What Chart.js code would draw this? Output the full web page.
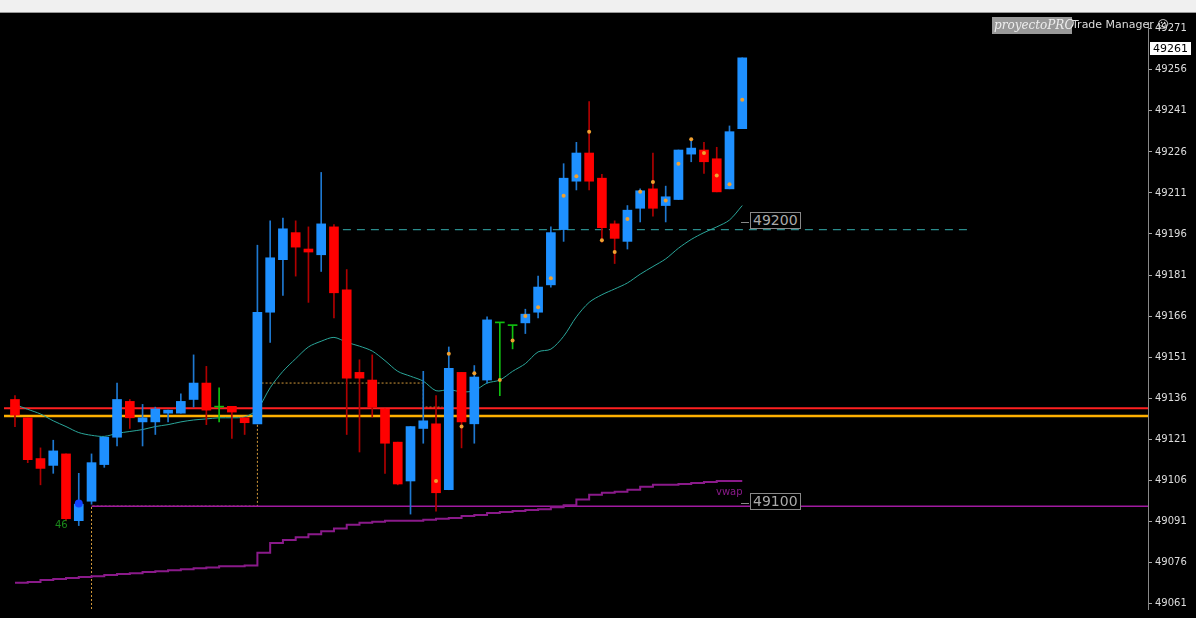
<!DOCTYPE html>
<html><head><meta charset="utf-8">
<script src="https://cdn.jsdelivr.net/npm/chart.js@4/dist/chart.umd.min.js"></script>
<style>
html,body{margin:0;padding:0;background:#000;overflow:hidden;width:1196px;height:618px;font-family:"DejaVu Sans",sans-serif}
#top{position:absolute;left:0;top:0;width:1196px;height:12px;background:#f0f0f0;border-bottom:1px solid #999}
#wrap{position:absolute;left:0;top:13px}
.lbl{position:absolute;font-size:14px;color:#aaa;border:1px solid #888;padding:0 2px;line-height:15px;background:#000}
.tk{position:absolute;height:1px;width:8px;background:#888}
</style></head><body>
<div id="top"></div>
<div id="wrap"><canvas id="c" width="1196" height="605"></canvas></div>
<div class="tk" style="left:741px;top:222px"></div><div class="lbl" style="left:750px;top:212px">49200</div>
<div class="tk" style="left:741px;top:503px"></div><div class="lbl" style="left:750px;top:493px">49100</div>
<div style="position:absolute;left:716px;top:486px;font-size:10px;color:#8a1a8a">vwap</div>
<div style="position:absolute;left:55px;top:519px;font-size:10px;color:#1a8a1a">46</div>
<div style="position:absolute;left:992px;top:17px;width:78px;height:17px;background:#999;color:#eee;font-style:italic;font-family:'DejaVu Serif',serif;font-size:12px;line-height:17px;padding-left:2px">proyectoPRO</div>
<div style="position:absolute;left:1072px;top:17px;font-size:11px;color:#ddd;line-height:15px">Trade Manager ☺</div>
<div style="position:absolute;left:1150px;top:42px;width:38px;height:13px;background:#fff;color:#000;font-size:11px;line-height:13px;padding-left:3px">49261</div>
<script>
const open_ = [49135.5,49128.8,49113.9,49111.4,49115.6,49091.2,49098.3,49111.7,49121.7,49134.8,49127.3,49127.3,49130.5,49130.5,49135.5,49141.5,49132.7,49133.0,49128.8,49126.6,49167.4,49186.6,49196.5,49190.5,49188.4,49198.6,49175.6,49145.4,49142.6,49132.0,49119.9,49105.7,49124.9,49126.6,49102.5,49145.4,49126.6,49142.6,49163.5,49162.5,49163.5,49167.4,49177.4,49197.6,49215.3,49225.6,49216.4,49199.7,49193.3,49205.4,49212.5,49206.4,49208.6,49225.2,49226.7,49223.5,49212.5,49234.5];
const high_ = [49136.9,49128.8,49117.8,49120.6,49115.6,49108.5,49115.6,49121.7,49141.5,49135.5,49133.7,49132.7,49131.6,49137.6,49151.8,49147.6,49139.8,49133.0,49128.8,49191.9,49200.8,49201.8,49200.8,49198.6,49218.5,49199.4,49183.0,49150.0,49151.8,49132.0,49119.9,49125.6,49145.8,49136.9,49154.7,49145.4,49147.9,49165.7,49163.5,49162.5,49168.5,49180.6,49198.6,49221.7,49229.5,49244.4,49217.8,49200.8,49206.4,49212.5,49225.6,49213.5,49226.7,49230.9,49229.5,49227.7,49235.5,49260.4];
const low_ = [49125.6,49112.4,49104.3,49108.5,49091.2,49089.4,49097.2,49110.7,49118.5,49124.9,49118.5,49122.7,49127.3,49130.5,49132.7,49126.3,49127.3,49121.3,49122.7,49126.6,49156.4,49173.5,49180.6,49171.0,49182.3,49165.3,49122.7,49116.3,49129.1,49108.5,49104.3,49093.6,49119.5,49094.7,49102.5,49117.8,49119.5,49141.5,49136.9,49154.0,49159.6,49165.3,49176.6,49193.3,49212.1,49212.1,49193.0,49185.2,49190.5,49200.4,49202.5,49200.4,49208.6,49222.4,49218.1,49211.4,49212.5,49234.5];
const close_ = [49129.8,49113.5,49110.3,49116.7,49091.9,49097.2,49112.4,49121.7,49135.5,49128.8,49128.8,49132.0,49131.6,49134.8,49141.5,49131.6,49132.7,49130.9,49127.0,49167.4,49187.3,49197.9,49191.2,49189.4,49199.7,49174.5,49143.3,49143.3,49132.7,49119.5,49104.6,49125.6,49127.7,49101.4,49146.9,49127.3,49143.7,49164.6,49163.5,49162.5,49166.7,49176.6,49196.5,49216.4,49225.6,49215.3,49198.3,49194.4,49204.7,49211.8,49205.4,49209.6,49226.7,49227.4,49222.4,49211.4,49233.4,49260.4];
const ma_ = [49133.7,49131.9,49130.2,49127.7,49125.6,49123.4,49122.4,49122.0,49123.1,49123.8,49124.5,49125.6,49126.3,49127.3,49128.0,49128.4,49128.8,49128.8,49129.1,49131.9,49139.8,49145.8,49150.4,49154.7,49156.8,49158.2,49156.4,49155.0,49153.2,49149.7,49145.8,49144.0,49142.2,49138.7,49139.1,49138.3,49138.7,49141.5,49142.6,49145.8,49148.6,49152.9,49153.9,49158.6,49165.7,49171.0,49173.8,49175.9,49178.1,49181.3,49184.1,49186.9,49190.8,49194.0,49196.5,49198.6,49201.1,49206.4];
const vwap_ = [49068.5,49068.8,49069.5,49069.9,49070.2,49070.6,49070.9,49071.3,49071.7,49072.0,49072.4,49072.7,49073.1,49073.4,49073.8,49074.1,49074.5,49074.5,49074.8,49079.5,49083.0,49084.1,49085.1,49086.2,49087.3,49088.3,49089.7,49090.4,49090.8,49091.2,49091.2,49091.2,49091.5,49091.9,49092.2,49092.9,49093.3,49094.0,49094.4,49094.7,49095.1,49095.4,49096.1,49096.8,49098.9,49100.7,49101.4,49101.8,49102.5,49103.6,49104.3,49104.3,49104.6,49105.0,49105.3,49105.7,49105.7,49105.7];
const dotIdx = [33,34,35,36,38,39,40,41,42,43,44,45,46,47,48,49,50,51,52,53,54,55,56,57];
const dotVal = [49105.7,49152.2,49125.6,49145.1,49142.6,49157.1,49166.0,49169.2,49179.8,49210.0,49217.1,49233.4,49193.7,49189.4,49201.5,49211.4,49215.0,49208.2,49221.7,49230.6,49225.6,49217.4,49214.2,49245.1];
const dojiIdx = [16,38,39];
const yTicks = [49061,49076,49091,49106,49121,49136,49151,49166,49181,49196,49211,49226,49241,49256,49271];
const redLevel = 49132.3, orangeLevel = 49129.5, tealLevel = 49197.6, purpleLevel = 49096.5;
const boxTop = 49141.5, boxMid = 49132.7;
const XMIN = -0.86, XMAX = 88.8, YMIN = 49058.9, YMAX = 49273.5;

const idx = open_.map((_, i) => i);
const col = i => dojiIdx.includes(i) ? '#10c010' : (close_[i] >= open_[i] ? '#1e90ff' : '#ff0000');
const wcol = i => dojiIdx.includes(i) ? '#10c010' : (close_[i] >= open_[i] ? '#1e78d0' : '#b00000');
const seg = (x1,y1,x2,y2) => [{x:x1,y:y1},{x:x2,y:y2}];
const lineDs = (data, color, w, dash) => ({type:'line', data, borderColor:color, borderWidth:w, borderDash:dash||[], pointRadius:0, fill:false, tension:0, order:5});

new Chart(document.getElementById('c'), {
  data: {datasets: [
    lineDs(seg(XMIN,redLevel,XMAX,redLevel), '#ff2020', 2),
    lineDs(seg(XMIN,orangeLevel,XMAX,orangeLevel), '#ffb000', 2.5),
    lineDs(seg(6,purpleLevel,XMAX,purpleLevel), '#a01aa0', 1.5),
    lineDs(seg(25.7,tealLevel,74.9,tealLevel), '#2a8c8c', 1.2, [8,6]),
    lineDs([{x:6,y:YMIN},{x:6,y:purpleLevel},{x:19,y:purpleLevel},{x:19,y:boxTop},{x:32,y:boxTop},{x:32,y:boxMid},{x:33.5,y:boxMid}], '#d49a3a', 1, [2,2]),
    {type:'line', data: idx.map(i=>({x:i,y:vwap_[i]})), borderColor:'#8a1a8a', borderWidth:2, stepped:true, pointRadius:0, order:4},
    {type:'line', data: idx.map(i=>({x:i,y:ma_[i]})), borderColor:'#2aa69a', borderWidth:1, pointRadius:0, tension:0.3, order:3},
    {type:'bar', data: idx.map(i=>({x:i,y:[low_[i],high_[i]]})), backgroundColor: idx.map(wcol), barThickness:1, grouped:false, order:2},
    {type:'bar', data: idx.map(i=>({x:i,y:[open_[i],close_[i]]})), backgroundColor: idx.map(col), barThickness:9, minBarLength:1, grouped:false, order:1},
    {type:'scatter', data: dotIdx.map((d,k)=>({x:d,y:dotVal[k]})), backgroundColor:'#f0a030', borderWidth:0, pointRadius:2, order:0},
    {type:'scatter', data: [{x:5,y:49097.5}], backgroundColor:'#1040ff', borderWidth:0, pointRadius:4, order:0}
  ]},
  options: {
    responsive:false, animation:false, maintainAspectRatio:false,
    layout:{padding:0},
    plugins:{legend:{display:false}, tooltip:{enabled:false}},
    scales:{
      x:{type:'linear', min:XMIN, max:XMAX, display:false, offset:false},
      y:{type:'linear', position:'right', min:YMIN, max:YMAX,
        afterBuildTicks: s => { s.ticks = yTicks.map(v=>({value:v})); },
        afterFit: s => { s.width = 48; },
        border:{color:'#888', width:1},
        grid:{drawOnChartArea:false, color:'#aaa', tickLength:4},
        ticks:{color:'#ddd', font:{family:'DejaVu Sans', size:10}, padding:3, callback:v=>String(v)}
      }
    }
  }
});
</script></body></html>
